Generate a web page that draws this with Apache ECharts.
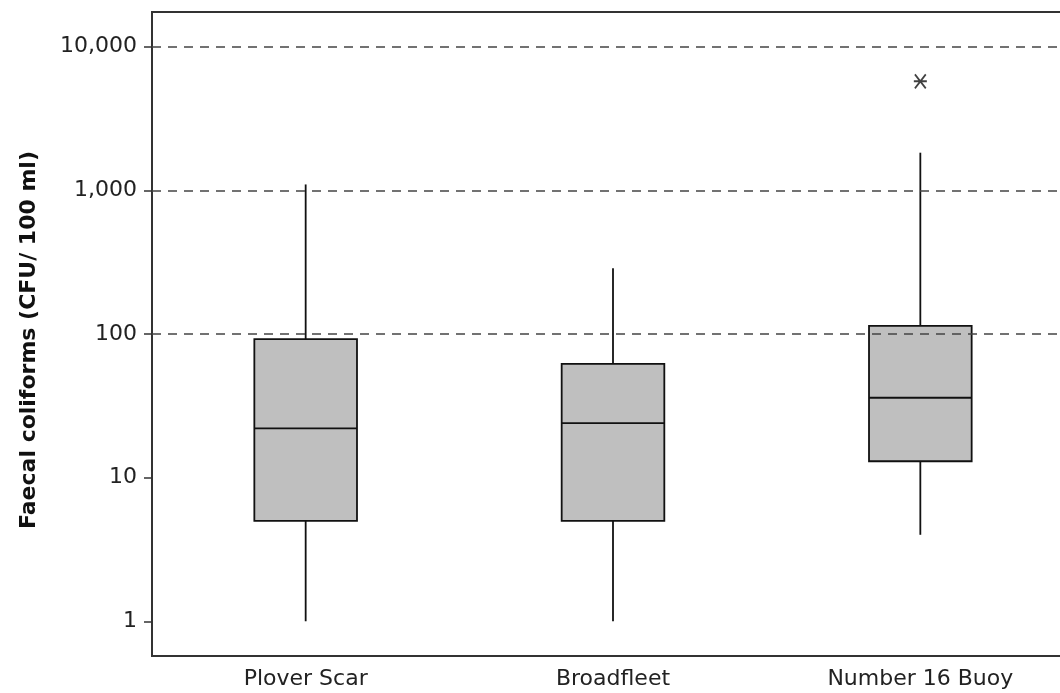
<!DOCTYPE html>
<html>
<head>
<meta charset="utf-8">
<title>Faecal coliforms by site</title>
<script src="https://cdn.jsdelivr.net/npm/echarts@6/dist/echarts.min.js"></script>
<style>
  html, body { margin: 0; padding: 0; background: #fff; }
  #chart { width: 1060px; height: 693px; }
</style>
</head>
<body>
<div id="chart"></div>
<script>
// Sampling sites
const categories = ['Plover Scar', 'Broadfleet', 'Number 16 Buoy'];

// Box-plot summary per site (CFU / 100 ml)
const whiskerLow  = [1, 1, 4];
const quartile1   = [5, 5, 13];
const medians     = [22, 24, 36];
const quartile3   = [92, 62, 114];
const whiskerHigh = [1100, 287, 1830];

// Outliers as [site index, value]
const outliers = [[2, 5750]];

// Y axis tick values and dashed reference levels
const yTicks = [1, 10, 100, 1000, 10000];
const refLevels = [100, 1000, 10000];

const boxData = categories.map((c, i) =>
  [i, whiskerLow[i], quartile1[i], medians[i], quartile3[i], whiskerHigh[i]]);

const ink = '#111';
const lineW = 1.8;

function renderBox(params, api) {
  const x = api.value(0);
  const lo = api.coord([x, api.value(1)]);
  const q1 = api.coord([x, api.value(2)]);
  const md = api.coord([x, api.value(3)]);
  const q3 = api.coord([x, api.value(4)]);
  const hi = api.coord([x, api.value(5)]);
  const band = api.size([1, 1])[0];
  const w = band * 0.334;
  const cx = lo[0];
  const half = w / 2;
  const lineStyle = { stroke: ink, lineWidth: lineW };
  return {
    type: 'group',
    children: [
      { type: 'line', shape: { x1: cx, y1: hi[1], x2: cx, y2: q3[1] }, style: lineStyle },
      { type: 'line', shape: { x1: cx, y1: q1[1], x2: cx, y2: lo[1] }, style: lineStyle },
      { type: 'rect', shape: { x: cx - half, y: q3[1], width: w, height: q1[1] - q3[1] },
        style: { fill: '#bfbfbf', stroke: ink, lineWidth: lineW } },
      { type: 'line', shape: { x1: cx - half, y1: md[1], x2: cx + half, y2: md[1] }, style: lineStyle }
    ]
  };
}

const fmtThousands = v => String(Math.round(v)).replace(/\B(?=(\d{3})+(?!\d))/g, ',');

const chart = echarts.init(document.getElementById('chart'), null, { renderer: 'canvas' });

chart.setOption({
  animation: false,
  backgroundColor: '#fff',
  // plot frame runs past the right edge of the page
  grid: {
    left: 152, width: 922, top: 12, height: 644,
    outerBoundsMode: 'none',
    containLabel: false,
    show: true, borderColor: '#333', borderWidth: 2, backgroundColor: 'transparent'
  },
  xAxis: {
    type: 'category',
    data: categories,
    boundaryGap: true,
    axisLine: { lineStyle: { color: '#333', width: 2 } },
    axisTick: { alignWithLabel: true, length: 6, lineStyle: { color: '#333', width: 1.5 } },
    axisLabel: {
      margin: 12,
      color: '#222',
      fontFamily: 'DejaVu Sans',
      fontSize: 22
    },
    splitLine: { show: false }
  },
  yAxis: {
    type: 'log',
    logBase: 10,
    min: 0.573,
    max: 17460,
    name: 'Faecal coliforms (CFU/ 100 ml)',
    nameLocation: 'middle',
    nameGap: 112,
    nameTextStyle: {
      color: '#111',
      fontFamily: 'DejaVu Sans',
      fontWeight: 'bold',
      fontSize: 22,
      padding: [0, 12, 0, 0]
    },
    axisLine: { show: true, lineStyle: { color: '#333', width: 2 } },
    axisTick: { show: true, length: 8, customValues: yTicks, lineStyle: { color: '#333', width: 1.5 } },
    axisLabel: {
      customValues: yTicks,
      margin: 15,
      color: '#222',
      fontFamily: 'DejaVu Sans',
      fontSize: 22,
      formatter: fmtThousands
    },
    splitLine: { show: false }
  },
  series: [
    {
      type: 'scatter',
      z: 2,
      data: outliers,
      symbol: 'path://M0,6L12,6M1,0L11,12M11,0L1,12',
      symbolSize: [13, 14],
      itemStyle: { color: 'none', borderColor: '#111', borderWidth: 1.8 },
      markLine: {
        silent: true,
        symbol: ['none', 'none'],
        label: { show: false },
        lineStyle: { color: '#444', width: 1.6, type: [9, 7] },
        data: refLevels.map(v => ({ yAxis: v }))
      }
    },
    {
      type: 'custom',
      z: 3,
      renderItem: renderBox,
      encode: { x: 0, y: [1, 2, 3, 4, 5] },
      data: boxData
    }
  ]
});
</script>
</body>
</html>
